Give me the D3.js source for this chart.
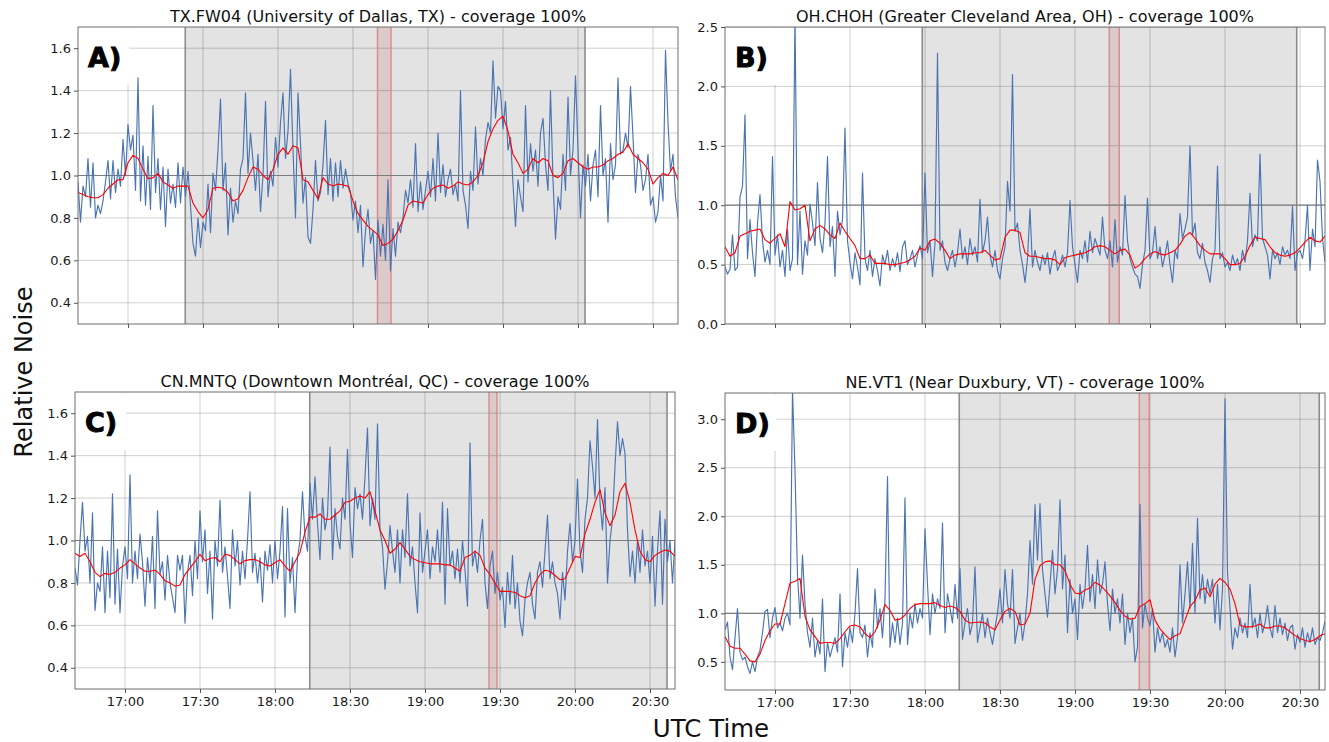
<!DOCTYPE html>
<html><head><meta charset="utf-8">
<script src="https://cdn.jsdelivr.net/npm/d3@7"></script>
<style>body{margin:0;background:#fff;} text{font-family:"DejaVu Sans",sans-serif;}</style>
</head><body><svg id="c" width="1329" height="742"></svg>
<script>
// ---------------- DATA ----------------
const startTime = "16:40:00", endTime = "20:40:00";
const blueStepMin = 1, redStepMin = 2;
const xTickLabels = ["17:00","17:30","18:00","18:30","19:00","19:30","20:00","20:30"];
const panelLabels = ["A)","B)","C)","D)"];
const titles = [
  "TX.FW04 (University of Dallas, TX) - coverage 100%",
  "OH.CHOH (Greater Cleveland Area, OH) - coverage 100%",
  "CN.MNTQ (Downtown Montréal, QC) - coverage 100%",
  "NE.VT1 (Near Duxbury, VT) - coverage 100%"
];
const yTicksA = [0.4,0.6,0.8,1.0,1.2,1.4,1.6];
const yTicksB = [0.0,0.5,1.0,1.5,2.0,2.5];
const yTicksC = [0.4,0.6,0.8,1.0,1.2,1.4,1.6];
const yTicksD = [0.5,1.0,1.5,2.0,2.5,3.0];
const yDomainA = [0.3,1.7], yDomainB = [0,2.5], yDomainC = [0.3,1.7], yDomainD = [0.21,3.27];
const refLine = 1.0;
// shaded windows (UTC)
const shadeA = ["17:22:54","20:02:48"], bandA = ["18:39:48","18:45:12"];
const shadeB = ["17:58:54","20:28:42"], bandB = ["19:13:42","19:17:42"];
const shadeC = ["18:13:54","20:36:48"], bandC = ["19:25:36","19:28:48"];
const shadeD = ["18:13:42","20:37:42"], bandD = ["19:25:42","19:29:42"];

// relative noise, one value per minute from 16:40
const blueA = [
0.97,0.78,0.95,0.90,1.08,0.85,1.06,0.80,0.86,0.82,
0.88,0.97,1.07,0.89,1.07,0.92,1.03,0.95,1.17,1.00,
1.24,1.12,1.19,0.93,1.46,0.88,1.14,0.86,1.09,0.84,
1.33,0.92,1.08,0.84,1.04,0.76,1.03,0.87,0.96,0.85,
1.06,0.87,1.04,0.90,1.02,0.86,0.68,0.62,0.80,0.66,
0.78,0.74,0.96,0.73,1.01,0.93,1.12,1.36,0.93,1.06,
0.72,0.94,0.78,0.88,0.82,1.03,1.08,1.39,1.01,1.20,
1.07,0.93,1.10,0.83,1.00,1.35,0.90,1.02,0.95,1.18,
1.04,1.25,1.39,1.08,1.21,1.50,1.12,0.80,1.39,1.15,
0.87,0.99,0.71,0.68,0.84,1.07,0.88,0.92,1.05,1.26,
0.91,1.08,0.88,1.06,0.90,1.07,0.94,1.03,0.96,0.92,
0.79,0.88,0.73,0.86,0.57,0.74,0.84,0.68,0.74,0.51,
0.79,0.62,0.77,0.60,0.98,0.55,0.75,0.62,0.78,0.73,
0.80,0.93,0.87,0.98,0.85,1.15,0.83,0.97,0.84,0.93,
1.02,0.90,1.08,0.88,1.20,0.92,1.05,0.90,0.98,1.03,
0.91,0.96,0.88,1.40,0.93,0.86,0.75,1.02,0.93,1.23,
0.96,1.08,1.00,1.17,1.25,1.20,1.54,1.27,1.42,1.40,
1.22,1.35,1.12,1.18,0.96,0.76,0.98,0.90,0.83,1.33,
0.97,1.15,1.02,1.12,0.95,1.20,1.27,1.05,0.93,1.40,
0.98,0.70,0.90,0.84,1.10,0.93,1.37,1.00,1.12,1.47,
1.12,0.80,1.05,0.95,1.10,0.88,1.05,1.12,0.90,1.33,
1.00,1.08,0.78,1.15,0.98,1.05,1.46,1.10,1.12,1.20,
1.13,1.42,1.18,0.92,1.10,1.05,0.93,0.98,1.10,0.86,
0.90,0.78,0.83,1.00,0.88,1.59,1.25,1.02,1.10,0.90,
0.80];
// smoothed, one value every 2 minutes
const redA = [
0.92,0.91,0.90,0.895,0.895,0.91,0.94,0.96,0.98,0.98,
1.06,1.095,1.08,1.03,0.985,0.99,1.01,0.97,0.955,0.94,
0.95,0.95,0.95,0.87,0.83,0.80,0.84,0.94,0.945,0.94,
0.92,0.88,0.89,0.93,0.99,1.04,1.03,1.00,0.98,1.03,
1.10,1.13,1.10,1.14,1.13,0.98,0.97,0.93,0.89,0.99,
0.96,0.95,0.96,0.955,0.95,0.88,0.82,0.79,0.76,0.74,
0.72,0.67,0.68,0.70,0.74,0.79,0.86,0.88,0.875,0.87,
0.91,0.94,0.95,0.955,0.94,0.95,0.97,0.96,0.955,0.97,
1.00,1.06,1.16,1.22,1.26,1.28,1.21,1.10,1.06,1.01,
1.03,1.08,1.06,1.08,1.07,1.00,0.99,1.01,1.07,1.08,
1.06,1.04,1.03,1.04,1.04,1.05,1.07,1.08,1.10,1.11,
1.15,1.10,1.08,1.06,1.03,0.96,0.99,1.01,1.00,1.04,
0.98];

const blueB = [
0.48,0.42,0.46,0.75,0.45,0.48,1.07,1.16,1.76,0.55,
0.88,0.60,0.40,0.85,1.09,0.70,0.52,0.62,0.50,1.41,
0.58,0.75,0.48,0.62,0.40,0.80,0.45,0.55,2.60,0.50,
0.95,0.42,0.70,0.58,1.01,0.85,0.66,1.19,0.72,0.60,
0.85,1.41,0.65,0.82,0.40,0.95,0.75,0.88,1.65,0.70,
0.52,0.38,0.60,0.48,0.33,1.27,0.55,0.45,0.62,0.40,
0.55,0.45,0.32,0.58,0.50,0.62,0.45,0.55,0.48,0.60,
0.44,0.65,0.70,0.50,0.55,0.62,0.48,0.58,0.66,0.55,
1.27,0.60,0.70,0.40,0.68,2.28,0.62,0.70,0.52,0.45,
0.55,0.62,0.48,0.60,0.80,0.55,0.65,0.50,0.72,0.58,
0.65,0.52,1.05,0.60,0.70,0.90,0.58,0.48,0.62,0.45,
0.38,0.55,0.65,1.20,0.95,2.10,0.78,0.85,0.62,0.50,
0.35,0.55,0.97,0.48,0.62,0.52,0.45,0.58,0.50,0.60,
0.42,0.55,0.62,0.45,0.50,0.58,0.48,0.60,1.04,0.65,
0.50,0.35,0.62,0.55,0.70,0.52,0.78,0.60,0.72,0.65,
0.58,0.90,0.62,0.55,0.70,0.48,0.88,0.52,0.65,0.58,
1.08,0.70,0.55,0.48,0.42,0.40,0.30,0.50,0.62,1.06,
0.55,0.60,0.82,0.55,0.65,0.48,0.58,0.70,0.50,0.35,
0.62,0.55,0.93,0.72,0.80,0.90,1.50,0.75,0.85,0.60,
0.55,0.68,0.52,0.45,0.35,0.55,0.62,1.33,0.55,0.60,
0.48,0.52,0.45,0.58,0.50,0.55,0.45,0.62,0.52,0.70,
1.10,0.65,0.75,0.70,1.43,0.72,0.65,0.58,0.38,0.62,
0.55,0.60,0.50,0.65,0.58,0.62,0.55,0.99,0.45,0.60,
0.62,0.55,0.70,1.00,0.45,0.80,0.65,1.38,1.20,0.72,
0.52];
const redB = [
0.65,0.57,0.60,0.74,0.76,0.78,0.79,0.80,0.71,0.68,
0.72,0.76,0.65,1.03,0.96,0.97,1.00,0.70,0.80,0.83,
0.80,0.75,0.72,0.85,0.78,0.72,0.66,0.55,0.55,0.58,
0.51,0.51,0.51,0.50,0.50,0.51,0.52,0.54,0.57,0.64,
0.62,0.70,0.715,0.68,0.62,0.55,0.58,0.59,0.59,0.59,
0.60,0.60,0.62,0.58,0.54,0.55,0.73,0.79,0.79,0.77,
0.60,0.57,0.57,0.56,0.55,0.55,0.54,0.50,0.56,0.57,
0.58,0.59,0.60,0.62,0.65,0.66,0.65,0.62,0.59,0.62,
0.63,0.58,0.47,0.50,0.55,0.59,0.61,0.59,0.58,0.60,
0.62,0.67,0.74,0.77,0.72,0.66,0.62,0.59,0.59,0.59,
0.55,0.50,0.50,0.51,0.57,0.66,0.73,0.72,0.71,0.65,
0.60,0.58,0.57,0.58,0.60,0.64,0.69,0.73,0.70,0.69,
0.74];

const blueC = [
0.87,0.79,1.00,1.18,0.95,1.02,0.80,1.13,0.67,0.80,
0.76,0.97,0.66,0.95,0.73,1.22,0.70,0.96,0.66,0.88,
0.97,0.82,1.31,0.80,0.95,0.82,1.03,0.90,0.69,0.92,
0.80,1.02,0.68,1.14,0.84,0.90,0.72,0.93,0.80,0.73,
0.66,0.93,0.86,0.93,0.61,0.85,0.93,0.74,1.00,0.82,
1.14,0.90,1.05,0.75,0.95,0.63,1.00,0.88,1.19,0.85,
0.97,0.83,0.68,1.05,0.88,1.00,0.79,0.95,0.82,1.00,
1.23,0.85,0.94,0.80,0.92,0.71,0.95,0.86,0.98,0.80,
1.00,0.82,0.95,1.16,0.64,1.15,0.80,0.92,0.66,0.92,
1.00,1.23,1.02,0.95,1.27,1.10,1.30,1.08,0.91,1.20,
1.05,1.12,1.44,0.91,1.15,1.02,0.96,1.20,1.10,1.43,
1.08,0.92,1.25,1.15,1.22,1.10,1.30,1.53,1.07,1.20,
1.10,1.55,1.05,0.97,0.77,0.90,1.07,0.95,0.85,1.05,
0.80,1.05,0.92,1.22,0.88,0.97,0.80,0.66,1.13,0.85,
0.95,1.05,0.82,0.97,0.90,1.05,0.85,1.18,0.70,1.15,
0.88,0.95,0.82,0.96,0.80,1.00,0.86,0.69,1.46,0.88,
0.95,0.85,1.00,1.10,0.80,0.68,0.88,0.95,0.75,0.85,
0.72,0.78,0.59,0.85,0.70,0.93,0.68,0.80,0.62,0.55,
0.72,0.80,0.85,0.70,0.63,0.85,0.90,0.78,0.95,1.12,
0.82,0.90,0.80,0.75,0.63,0.85,0.72,0.95,1.08,0.90,
1.00,1.29,0.95,0.85,1.10,1.20,1.47,1.35,1.20,1.57,
1.18,1.05,1.25,0.80,1.00,1.10,1.35,1.56,1.40,1.48,
1.41,1.05,0.83,0.95,0.80,1.00,0.85,1.05,0.88,0.95,
0.80,1.02,0.69,0.95,1.14,0.70,1.10,0.90,1.00,0.80,
1.00];
const redC = [
0.94,0.925,0.94,0.90,0.85,0.83,0.845,0.84,0.85,0.87,
0.885,0.91,0.89,0.87,0.855,0.855,0.86,0.84,0.81,0.80,
0.785,0.79,0.84,0.87,0.90,0.935,0.905,0.915,0.92,0.90,
0.935,0.93,0.91,0.89,0.905,0.91,0.91,0.90,0.885,0.88,
0.895,0.91,0.88,0.855,0.90,0.945,1.04,1.11,1.11,1.125,
1.10,1.10,1.12,1.14,1.18,1.185,1.20,1.21,1.20,1.23,
1.14,1.05,1.00,0.94,0.96,0.99,0.96,0.925,0.91,0.90,
0.895,0.89,0.89,0.89,0.885,0.885,0.87,0.855,0.92,0.93,
0.95,0.93,0.87,0.84,0.80,0.76,0.76,0.76,0.755,0.74,
0.73,0.74,0.80,0.84,0.86,0.855,0.835,0.815,0.82,0.87,
0.925,0.92,1.03,1.10,1.18,1.24,1.13,1.07,1.12,1.23,
1.27,1.18,1.05,0.95,0.91,0.90,0.93,0.945,0.955,0.95,
0.925];

const blueD = [
0.83,0.91,0.55,0.42,0.75,1.05,0.60,0.52,0.55,0.45,
0.38,0.50,0.40,0.55,0.62,0.80,1.02,1.04,0.75,0.95,
1.06,0.85,0.90,0.82,0.95,1.00,0.88,3.30,2.47,1.39,
0.95,1.60,1.10,0.80,0.65,0.95,0.55,0.72,0.58,1.15,
0.40,0.70,0.55,0.65,0.75,0.60,1.20,0.45,0.80,0.65,
0.85,0.70,1.00,1.46,0.80,0.75,0.88,0.55,0.80,0.65,
1.25,0.85,1.05,0.75,1.15,2.41,0.65,0.90,0.70,0.95,
0.68,0.90,2.19,0.68,1.00,0.85,1.10,0.90,1.05,0.95,
1.87,1.30,0.78,1.20,1.00,1.15,1.05,1.93,0.80,1.20,
1.05,0.90,1.30,0.95,1.46,0.73,0.90,1.05,0.78,0.90,
1.48,0.70,0.85,1.00,0.75,0.95,0.80,0.68,0.85,1.00,
1.25,0.90,1.45,1.10,0.95,1.45,0.69,0.85,1.00,0.72,
0.90,1.20,1.75,1.30,2.12,1.55,2.13,1.45,1.20,0.96,
1.30,1.65,1.20,1.45,2.17,1.25,1.60,0.80,1.35,1.00,
1.15,0.73,1.30,1.05,1.25,1.70,1.12,1.40,1.05,1.55,
1.20,1.30,1.53,1.10,0.82,1.25,1.00,1.15,0.90,1.20,
0.68,1.00,0.80,0.95,0.50,0.65,2.12,0.85,1.10,0.95,
0.87,1.05,0.60,0.85,0.70,0.80,0.65,0.73,0.60,0.85,
0.55,0.75,1.50,0.90,1.20,1.53,1.05,1.72,1.00,1.98,
1.15,1.40,1.10,1.35,1.20,1.35,0.90,1.30,0.83,1.25,
3.21,1.42,1.05,0.63,0.85,0.75,0.95,0.80,0.90,0.75,
1.30,0.85,0.95,0.75,1.00,0.80,0.90,1.08,0.85,0.75,
1.08,0.80,0.95,0.78,0.90,0.72,0.85,0.88,0.63,0.78,
0.70,0.85,0.65,0.80,0.70,0.85,0.68,0.75,0.72,0.80,
0.92];
const redD = [
0.76,0.66,0.64,0.64,0.58,0.51,0.50,0.58,0.72,0.82,
0.89,0.89,1.10,1.31,1.33,1.36,0.97,0.83,0.76,0.69,
0.70,0.70,0.69,0.74,0.81,0.87,0.88,0.86,0.79,0.75,
0.81,0.93,1.09,1.03,0.93,0.94,0.98,1.05,1.09,1.10,
1.10,1.10,1.11,1.08,1.06,1.075,1.06,1.02,0.93,0.90,
0.905,0.91,0.90,0.86,0.83,0.93,1.02,1.05,1.02,0.88,
0.89,1.00,1.35,1.49,1.53,1.54,1.50,1.50,1.44,1.30,
1.21,1.20,1.24,1.26,1.32,1.29,1.24,1.18,1.11,1.03,
0.97,0.94,0.95,1.07,1.10,1.14,0.93,0.84,0.78,0.73,
0.77,0.79,0.93,1.07,1.13,1.24,1.26,1.17,1.30,1.36,
1.32,1.25,1.10,0.88,0.86,0.86,0.87,0.89,0.85,0.85,
0.87,0.87,0.85,0.81,0.77,0.74,0.72,0.71,0.73,0.77,
0.79];

// ---------------- DRAW ----------------
const parseT = d3.timeParse("%H:%M:%S");
const tStart = parseT(startTime), tEnd = parseT(endTime);
const toSeries = (arr, step) => arr.map((v,i)=>({t:new Date(tStart.getTime()+i*step*60000), v}));

const panels = [
  {box:{x:78,y:27,w:600,h:297}, title:titles[0], label:panelLabels[0], yDomain:yDomainA, yTicks:yTicksA, blue:blueA, red:redA, shade:shadeA, band:bandA, xLabels:false},
  {box:{x:725,y:27,w:600,h:297}, title:titles[1], label:panelLabels[1], yDomain:yDomainB, yTicks:yTicksB, blue:blueB, red:redB, shade:shadeB, band:bandB, xLabels:false},
  {box:{x:75,y:392,w:600,h:297}, title:titles[2], label:panelLabels[2], yDomain:yDomainC, yTicks:yTicksC, blue:blueC, red:redC, shade:shadeC, band:bandC, xLabels:true},
  {box:{x:725,y:393,w:600,h:297}, title:titles[3], label:panelLabels[3], yDomain:yDomainD, yTicks:yTicksD, blue:blueD, red:redD, shade:shadeD, band:bandD, xLabels:true}
];

const svg = d3.select("#c");
const xTickDates = xTickLabels.map(s=>parseT(s+":00"));
const fmt = d3.timeFormat("%H:%M");

panels.forEach((p,pi)=>{
  const {x,y,w,h} = p.box;
  const xs = d3.scaleTime().domain([tStart,tEnd]).range([0,w]);
  const ys = d3.scaleLinear().domain(p.yDomain).range([h,0]);
  const g = svg.append("g").attr("transform",`translate(${x},${y})`);
  const cid = "clip"+pi;
  g.append("clipPath").attr("id",cid).append("rect").attr("width",w).attr("height",h);
  const inner = g.append("g").attr("clip-path",`url(#${cid})`);

  // gray shading window
  const s0 = xs(parseT(p.shade[0])), s1 = xs(parseT(p.shade[1]));
  inner.append("rect").attr("x",s0).attr("y",0).attr("width",s1-s0).attr("height",h).attr("fill","#e3e3e3");
  // red band
  const b0 = xs(parseT(p.band[0])), b1 = xs(parseT(p.band[1]));
  inner.append("rect").attr("x",b0).attr("y",0).attr("width",b1-b0).attr("height",h).attr("fill","rgba(195,100,100,0.2)");

  // grid
  inner.selectAll(".vg").data(xTickDates).join("line")
    .attr("x1",d=>xs(d)).attr("x2",d=>xs(d)).attr("y1",0).attr("y2",h)
    .attr("stroke","rgba(0,0,0,0.19)").attr("stroke-width",1);
  inner.selectAll(".hg").data(p.yTicks).join("line")
    .attr("x1",0).attr("x2",w).attr("y1",d=>ys(d)).attr("y2",d=>ys(d))
    .attr("stroke","rgba(0,0,0,0.19)").attr("stroke-width",1);

  // shading edges
  [s0,s1].forEach(sx=>inner.append("line").attr("x1",sx).attr("x2",sx).attr("y1",0).attr("y2",h)
    .attr("stroke","#8c8c8c").attr("stroke-width",1.6));
  [b0,b1].forEach(sx=>inner.append("line").attr("x1",sx).attr("x2",sx).attr("y1",0).attr("y2",h)
    .attr("stroke","#d98a8a").attr("stroke-width",1.4));

  // reference line
  inner.append("line").attr("x1",0).attr("x2",w).attr("y1",ys(refLine)).attr("y2",ys(refLine))
    .attr("stroke","#7d7d7d").attr("stroke-width",1.2);

  // label background
  inner.append("rect").attr("x",1).attr("y",1).attr("width",50).attr("height",57).attr("fill","#fff");

  // series
  const line = d3.line().x(d=>xs(d.t)).y(d=>ys(d.v));
  inner.append("path").datum(toSeries(p.blue,blueStepMin)).attr("d",line)
    .attr("fill","none").attr("stroke","#4a74b2").attr("stroke-width",1.15).attr("stroke-linejoin","round");
  inner.append("path").datum(toSeries(p.red,redStepMin)).attr("d",line)
    .attr("fill","none").attr("stroke","#ff0000").attr("stroke-width",1.1).attr("stroke-linejoin","round");

  // frame
  g.append("rect").attr("width",w).attr("height",h).attr("fill","none").attr("stroke","#6e6e6e").attr("stroke-width",1);

  // y axis
  const ya = d3.axisLeft(ys).tickValues(p.yTicks).tickFormat(d3.format(".1f")).tickSize(4).tickPadding(3);
  const yg = g.append("g").call(ya);
  yg.select(".domain").remove();
  yg.selectAll("line").attr("stroke","#555");
  yg.selectAll("text").attr("font-size","13px").attr("fill","#1a1a1a").attr("font-family","DejaVu Sans");

  // x axis
  const xa = d3.axisBottom(xs).tickValues(xTickDates).tickSize(4).tickPadding(4)
    .tickFormat(p.xLabels ? fmt : ()=>"");
  const xg = g.append("g").attr("transform",`translate(0,${h})`).call(xa);
  xg.select(".domain").remove();
  xg.selectAll("line").attr("stroke","#555");
  xg.selectAll("text").attr("font-size","13px").attr("fill","#1a1a1a").attr("font-family","DejaVu Sans");

  // title
  g.append("text").attr("x",w/2).attr("y",-5).attr("text-anchor","middle")
    .attr("font-size","16px").attr("fill","#111").text(p.title);
  // panel label
  g.append("text").attr("x",10).attr("y",40).attr("font-family","Liberation Sans, Arial, sans-serif")
    .attr("font-weight","bold").attr("font-size","27px").attr("fill","#000")
    .attr("stroke","#000").attr("stroke-width",0.9).text(p.label);
});

svg.append("text").attr("transform","translate(32,372) rotate(-90)").attr("text-anchor","middle")
  .attr("font-size","24px").attr("fill","#111").text("Relative Noise");
svg.append("text").attr("x",711).attr("y",737).attr("text-anchor","middle")
  .attr("font-size","24.5px").attr("fill","#111").text("UTC Time");
</script>
</body></html>
